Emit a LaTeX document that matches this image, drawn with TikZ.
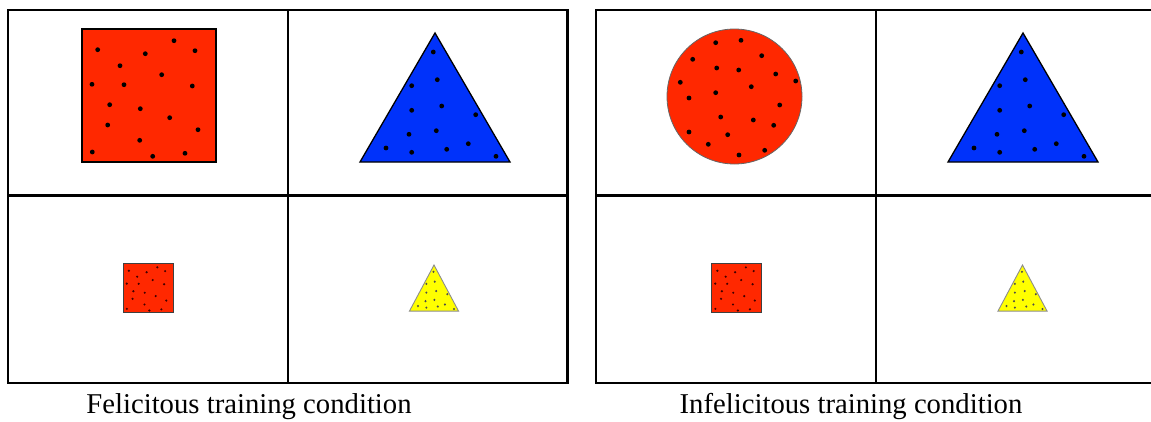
\documentclass[tikz,border=0pt]{standalone}
\usepackage{fontspec}
\setmainfont{Liberation Serif}
\definecolor{shapered}{RGB}{255,40,0}
\definecolor{shapeblue}{RGB}{0,50,250}
\definecolor{shapeyellow}{RGB}{255,255,0}
\newcommand\dotr{2.4}
\newcommand\sqdots{\foreach \p in {(15.7,20.7),(92,11.7),(63.3,24.7),(113,21.7),(38,36.7),(79.7,45.7),(10,55.3),(42,55.7),(110.3,57),(27.7,75.7),(58.3,79.7),(87.7,88.7),(25.7,96),(116,100.7),(57.7,111.3),(10.3,123),(70.7,127.3),(103,124.3)}{\fill[dotcol] \p circle[radius=\dotr];}}
\newcommand\tridots{\foreach \p in {(-1.7,19),(2.3,46.7),(-23.3,52.7),(-23.3,77.3),(6.7,73),(40.7,81.7),(-26,101.3),(1.3,97.7),(-49,115),(-23.3,119.3),(11.7,116.3),(33.3,110.7),(61,123.3)}{\fill[dotcol] \p circle[radius=\dotr];}}
\newcommand\circdots{\foreach \p in {(715.7,42.7),(741,40.3),(761.7,55.7),(692.7,59.3),(716.7,68),(738.7,70),(775.7,74),(795.7,81),(680.3,82.3),(751.3,86.7),(689,98),(715.7,92.7),(779.7,105),(720.7,117),(753.3,120),(773.7,125.3),(689,132),(727.7,134.7),(708.3,144.3),(764.7,150.3),(739,155)}{\fill[dotcol] \p circle[radius=\dotr];}}
\begin{document}
\begin{tikzpicture}[x=1pt,y=-1pt,
  panel/.style={draw=black,line width=2.7pt},
  dotcol/.style={fill=black},
  bigsq/.style={fill=shapered,draw=black,line width=1.6pt},
  bigtri/.style={fill=shapeblue,draw=black,line width=1.3pt,line join=miter},
  bigcirc/.style={fill=shapered,draw=black!60,line width=0.8pt},
  smallsq/.style={fill=shapered,draw=black!75,line width=0.9pt},
  smalltri/.style={fill=shapeyellow,draw=black!45,line width=0.9pt},
  lbl/.style={font=\fontsize{28.7}{34}\selectfont,inner sep=0pt}]
\useasboundingbox (0,0) rectangle (1151,421);
\clip (0,0) rectangle (1151,421);
% ---------- left panel ----------
\draw[panel] (8,10) rectangle (567.5,383);
\draw[panel] (288,10) -- (288,383);
\draw[panel] (8,195.5) -- (567.5,195.5);
% big square
\begin{scope}[shift={(82,29)}]
  \draw[bigsq] (0,0) rectangle (134,133);
  \sqdots
\end{scope}
% big triangle
\begin{scope}[shift={(435,33)}]
  \draw[bigtri] (0,0) -- (75,129) -- (-75,129) -- cycle;
  \tridots
\end{scope}
% small square
\begin{scope}[shift={(123,263)},scale=0.373]
  \draw[smallsq] (0,0) rectangle (134,133);
  \renewcommand\dotr{3.2}
  \tikzset{dotcol/.style={fill=black!75!red}}
  \sqdots
\end{scope}
% small triangle
\begin{scope}[shift={(434,265)},xscale=0.327,yscale=0.357]
  \draw[smalltri] (0,0) -- (75,129) -- (-75,129) -- cycle;
  \renewcommand\dotr{3.4}
  \tikzset{dotcol/.style={fill=black!70}}
  \tridots
\end{scope}
% ---------- right panel ----------
\draw[panel] (596,10) rectangle (1160,383);
\draw[panel] (876,10) -- (876,383);
\draw[panel] (596,195.5) -- (1160,195.5);
% big circle
\draw[bigcirc] (734.5,96.5) circle[radius=67.5];
\circdots
% big triangle
\begin{scope}[shift={(1023,33)}]
  \draw[bigtri] (0,0) -- (75,129) -- (-75,129) -- cycle;
  \tridots
\end{scope}
% small square
\begin{scope}[shift={(711.5,263)},scale=0.373]
  \draw[smallsq] (0,0) rectangle (134,133);
  \renewcommand\dotr{3.2}
  \tikzset{dotcol/.style={fill=black!75!red}}
  \sqdots
\end{scope}
% small triangle
\begin{scope}[shift={(1022.5,265)},xscale=0.327,yscale=0.357]
  \draw[smalltri] (0,0) -- (75,129) -- (-75,129) -- cycle;
  \renewcommand\dotr{3.4}
  \tikzset{dotcol/.style={fill=black!70}}
  \tridots
\end{scope}
% ---------- labels ----------
\node[lbl,anchor=base] (labfel) at (249,413) {Felicitous training condition};
\node[lbl,anchor=base] (labinf) at (851,413) {Infelicitous training condition};
\end{tikzpicture}
\end{document}
